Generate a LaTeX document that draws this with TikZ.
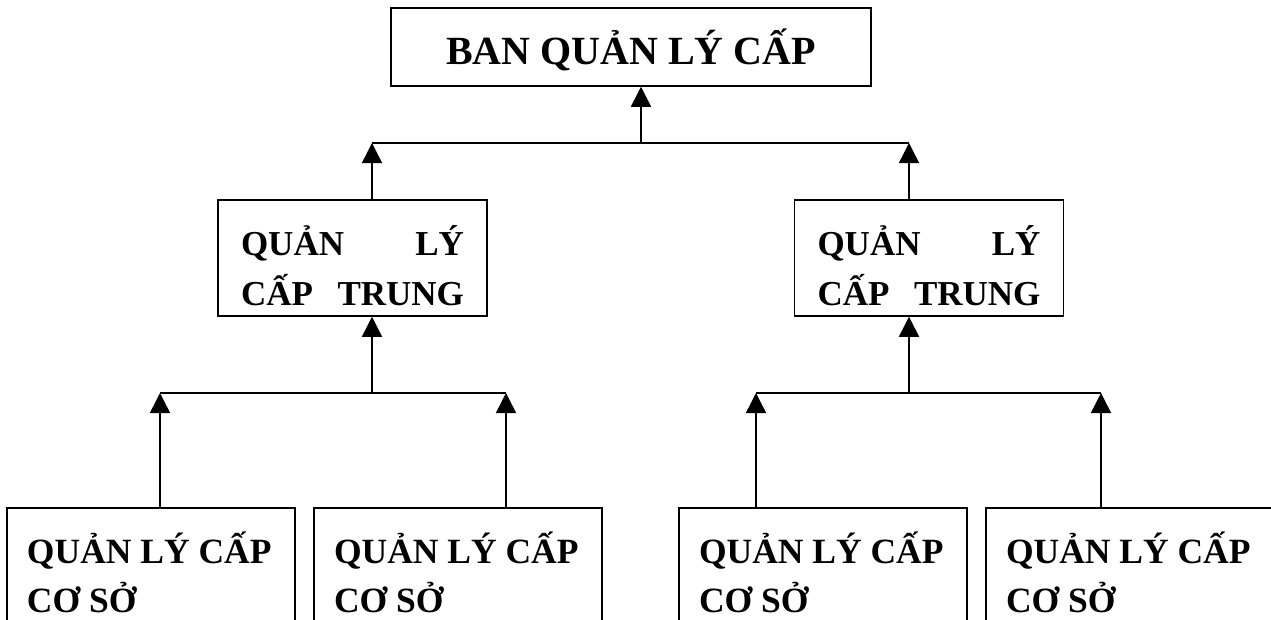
\documentclass[tikz,border=0pt]{standalone}
\usepackage{fontspec}
\setmainfont{Liberation Serif}
\usetikzlibrary{arrows.meta}
\tikzset{
  box/.style={draw, line width=1.5pt, inner ysep=0pt, font=\bfseries},
  arr/.style={line width=1.5pt, -{Triangle[width=20pt,length=20pt]}},
  conn/.style={line width=1.5pt},
}
\newcommand{\midbox}{\fontsize{35pt}{50pt}\selectfont\parbox[c][116pt][t]{223pt}{\rule{0pt}{55pt}\makebox[223pt][s]{QUẢN\hfill LÝ}\\\makebox[223pt][s]{CẤP\hfill TRUNG}}}
\newcommand{\lowbox}{\fontsize{35.5pt}{49pt}\selectfont\parbox[c][150pt][t]{248pt}{\rule{0pt}{55pt}QUẢN LÝ CẤP\\CƠ SỞ}}
\begin{document}
\begin{tikzpicture}[x=1pt,y=-1pt]
\useasboundingbox (0,0) rectangle (1271,619);
\clip (0,0) rectangle (1271,619);
% boxes
\node[box, inner xsep=0pt] (top) at (631,47) {\fontsize{40pt}{40pt}\selectfont\parbox[c][78pt][t]{480pt}{\centering\rule{0pt}{56pt}BAN QUẢN LÝ CẤP}};
\node[box, inner xsep=23pt] (m1) at (352.5,258) {\midbox};
\node[box, inner xsep=23pt] (m2) at (929,258) {\midbox};
\node[box, inner xsep=20pt] (b1) at (151,583) {\lowbox};
\node[box, inner xsep=20pt] (b2) at (458,583) {\lowbox};
\node[box, inner xsep=20pt] (b3) at (823,583) {\lowbox};
\node[box, inner xsep=20pt] (b4) at (1130,583) {\lowbox};
% upper junction
\coordinate (j0) at (641,143);
\coordinate (ja) at (372,143);
\coordinate (jb) at (909,143);
\draw[conn] (ja) -- (jb);
\draw[arr] (j0) -- (j0 |- top.south);
\draw[arr] (ja |- m1.north) -- (ja);
\draw[arr] (jb |- m2.north) -- (jb);
% lower left junction
\coordinate (k1) at (372,393);
\coordinate (c1) at (160,393);
\coordinate (c2) at (506,393);
\draw[conn] (c1) -- (c2);
\draw[arr] (k1) -- (k1 |- m1.south);
\draw[arr] (c1 |- b1.north) -- (c1);
\draw[arr] (c2 |- b2.north) -- (c2);
% lower right junction
\coordinate (k2) at (909,393);
\coordinate (c3) at (756,393);
\coordinate (c4) at (1101,393);
\draw[conn] (c3) -- (c4);
\draw[arr] (k2) -- (k2 |- m2.south);
\draw[arr] (c3 |- b3.north) -- (c3);
\draw[arr] (c4 |- b4.north) -- (c4);
\end{tikzpicture}
\end{document}
